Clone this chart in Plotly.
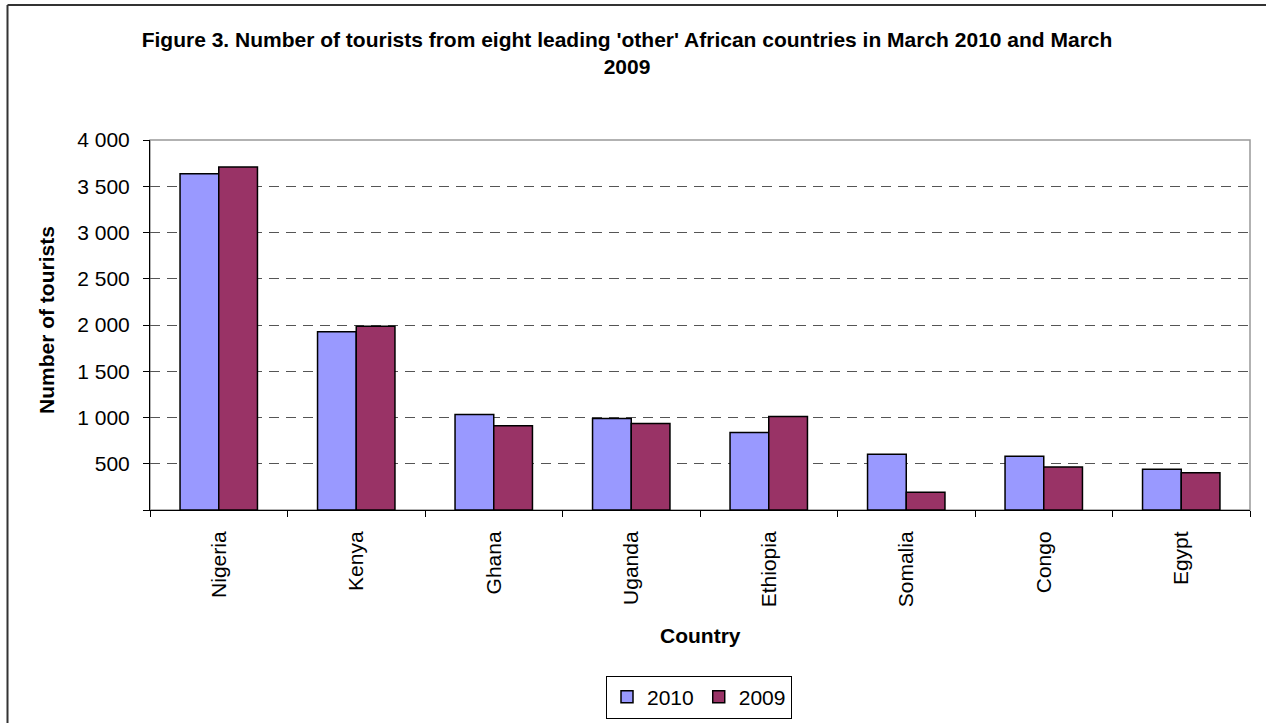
import plotly.graph_objects as go

countries = ["Nigeria", "Kenya", "Ghana", "Uganda", "Ethiopia", "Somalia", "Congo", "Egypt"]
tourists_2010 = [3636, 1928, 1032, 989, 837, 603, 581, 441]
tourists_2009 = [3708, 1986, 910, 935, 1011, 192, 466, 404]
y_tick_vals = [0, 500, 1000, 1500, 2000, 2500, 3000, 3500, 4000]
y_tick_text = ["", "500", "1 000", "1 500", "2 000", "2 500", "3 000", "3 500", "4 000"]

W, H = 1266, 723
L, R, T, B = 150, 16, 140, 213
pw, ph = W - L - R, H - T - B

def px(x):
    return (x - L) / pw

def py(y):
    return (H - B - y) / ph

FONT = "Liberation Sans, Arial, sans-serif"

fig = go.Figure()
fig.add_trace(go.Bar(name="2010", x=countries, y=tourists_2010,
                     marker=dict(color="#9999FF", line=dict(color="black", width=1.5))))
fig.add_trace(go.Bar(name="2009", x=countries, y=tourists_2009,
                     marker=dict(color="#993366", line=dict(color="black", width=1.5))))

fig.update_layout(
    width=W, height=H,
    margin=dict(l=L, r=R, t=T, b=B, pad=0, autoexpand=False),
    paper_bgcolor="white", plot_bgcolor="white",
    barmode="group", bargap=0.437, bargroupgap=0,
    font=dict(family=FONT, size=21, color="black"),
    title=dict(text="<b>Figure 3. Number of tourists from eight leading 'other' African countries in March 2010 and March<br>2009</b>",
               x=px(627), xref="paper", xanchor="center", y=1 - 47 / H, yref="container", yanchor="top",
               font=dict(family=FONT, size=21, color="black")),
    showlegend=True,
    legend=dict(orientation="h", x=px(699), xanchor="center", y=py(697), yanchor="middle",
                bordercolor="black", borderwidth=1, bgcolor="white",
                font=dict(family=FONT, size=21), itemwidth=30, traceorder="normal"),
)

fig.update_xaxes(
    showline=True, linecolor="black", linewidth=1,
    ticks="outside", ticklen=6, tickcolor="black", tickson="boundaries",
    tickangle=-90, tickfont=dict(family=FONT, size=21), ticklabelstandoff=12,
    showgrid=False, automargin=False,
)
fig.update_yaxes(
    range=[0, 4000], tickvals=y_tick_vals, ticktext=y_tick_text,
    showline=True, linecolor="black", linewidth=1,
    ticks="outside", ticklen=6, tickcolor="black",
    tickfont=dict(family=FONT, size=21), ticklabelstandoff=9,
    showgrid=True, gridcolor="#555555", gridwidth=1, griddash="10px,7px",
    zeroline=False, automargin=False,
)

# plot area frame (grey top/right), drawn below traces
fig.add_shape(type="rect", xref="paper", yref="paper", x0=0, y0=0, x1=1, y1=1,
              line=dict(color="#999999", width=1.5), layer="below")
# outer chart frame (left and top edges)
fig.add_shape(type="line", xref="paper", yref="paper", x0=px(7.5), x1=px(7.5), y0=py(5), y1=py(730),
              line=dict(color="#333333", width=2))
fig.add_shape(type="line", xref="paper", yref="paper", x0=px(7.5), x1=px(1270), y0=py(5), y1=py(5),
              line=dict(color="#333333", width=2))

fig.add_annotation(text="<b>Country</b>", xref="paper", yref="paper", x=px(700), y=py(635),
                   showarrow=False, font=dict(family=FONT, size=21), xanchor="center", yanchor="middle")
fig.add_annotation(text="<b>Number of tourists</b>", xref="paper", yref="paper", x=px(46), y=py(320),
                   showarrow=False, textangle=-90, font=dict(family=FONT, size=21),
                   xanchor="center", yanchor="middle")

fig.write_html("out.html")
